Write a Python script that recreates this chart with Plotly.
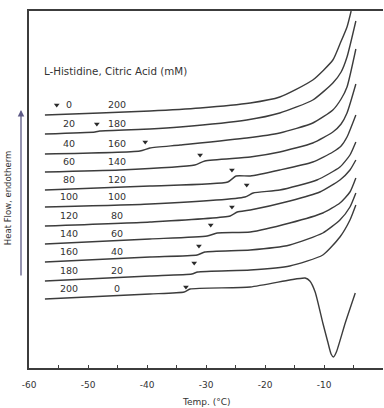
import plotly.graph_objects as go

# Sample composition (mM)
his_mM = [0, 20, 40, 60, 80, 100, 120, 140, 160, 180, 200]
cit_mM = [200, 180, 160, 140, 120, 100, 80, 60, 40, 20, 0]

# Thermograms: temperature (°C) and heat flow (arbitrary units, stacked)
t_0 = [-57.3, -48.0, -39.5, -31.0, -22.5, -17.5, -11.9, -8.5, -7.3, -6.1, -5.4]
hf_0 = [25.3, 25.5, 25.7, 26.0, 26.5, 27.1, 28.8, 30.8, 32.4, 34.1, 35.7]

t_20 = [-57.3, -48.8, -48.0, -39.5, -34.4, -23.1, -17.5, -11.9, -8.5, -7.1, -6.1, -4.6]
hf_20 = [23.4, 23.6, 23.7, 23.9, 24.1, 24.8, 25.5, 26.8, 28.5, 29.6, 31.1, 34.7]

t_40 = [-57.3, -41.2, -39.5, -34.4, -23.1, -17.5, -11.9, -8.5, -7.1, -6.1, -4.6]
hf_40 = [21.4, 21.7, 22.0, 22.3, 23.0, 23.5, 24.5, 25.8, 26.9, 28.1, 31.9]

t_60 = [-57.3, -44.6, -31.9, -30.2, -22.5, -17.5, -11.9, -8.5, -7.1, -6.1, -4.6]
hf_60 = [19.6, 19.8, 20.3, 20.7, 21.1, 21.6, 22.5, 23.6, 24.4, 25.5, 28.4]

t_80 = [-57.3, -39.5, -26.3, -24.9, -22.5, -17.5, -11.9, -8.5, -7.1, -6.1, -4.6]
hf_80 = [17.8, 18.2, 18.6, 19.2, 19.2, 19.8, 20.6, 21.6, 22.2, 23.1, 25.3]

t_100 = [-57.3, -39.5, -23.4, -22.0, -17.5, -11.2, -7.3, -5.6, -4.6]
hf_100 = [16.1, 16.4, 17.1, 17.5, 17.8, 18.8, 20.1, 21.3, 22.6]

t_120 = [-57.3, -39.5, -25.9, -24.7, -22.5, -15.8, -10.7, -7.3, -5.6, -4.6]
hf_120 = [14.2, 14.6, 15.2, 15.6, 15.8, 16.7, 17.6, 18.8, 19.8, 20.8]

t_140 = [-57.3, -39.5, -29.8, -28.1, -22.5, -15.8, -10.2, -7.3, -5.6, -4.6]
hf_140 = [12.4, 12.9, 13.2, 13.5, 13.6, 14.5, 15.5, 16.5, 17.6, 19.0]

t_160 = [-57.3, -39.5, -31.5, -30.2, -22.5, -15.8, -10.2, -7.3, -5.6, -4.6]
hf_160 = [10.6, 11.1, 11.3, 11.6, 11.8, 12.3, 13.5, 14.8, 16.1, 17.5]

t_180 = [-57.3, -39.5, -32.4, -31.4, -22.5, -15.8, -10.2, -7.3, -5.6, -4.6]
hf_180 = [8.7, 9.2, 9.4, 9.6, 9.8, 10.2, 11.3, 13.1, 14.8, 16.3]

t_200 = [-57.3, -39.5, -33.7, -32.7, -22.5, -15.8, -13.2, -12.4, -11.5, -10.2,
         -9.4, -8.8, -8.4, -7.9, -6.4, -4.7]
hf_200 = [6.9, 7.4, 7.6, 7.9, 8.1, 8.8, 9.0, 8.7, 7.6, 4.5,
          2.7, 1.4, 1.1, 1.6, 4.5, 7.5]

# Glass transition markers (°C, heat flow)
tg_temp = [-55.3, -48.5, -40.3, -31.0, -25.6, -23.1, -25.6, -29.2, -31.2, -32.0, -33.4]
tg_hf = [26.3, 24.4, 22.6, 21.3, 19.8, 18.3, 16.1, 14.3, 12.2, 10.5, 8.1]

# Axis ticks
x_tick_vals = [-60, -50, -40, -30, -20, -10, 0]
x_tick_text = ["-60", "-50", "-40", "-30", "-20", "-10", "0"]

curves = [(t_0, hf_0), (t_20, hf_20), (t_40, hf_40), (t_60, hf_60), (t_80, hf_80),
          (t_100, hf_100), (t_120, hf_120), (t_140, hf_140), (t_160, hf_160),
          (t_180, hf_180), (t_200, hf_200)]

LINE = "#3c3c3c"
TXT = "#333333"
FONT = "DejaVu Sans, Verdana, sans-serif"

fig = go.Figure()
for t, hf in curves:
    fig.add_trace(go.Scatter(x=t, y=hf, mode="lines",
                             line=dict(color=LINE, width=1.4, shape="spline", smoothing=0.55),
                             showlegend=False, hoverinfo="skip"))

fig.add_trace(go.Scatter(x=tg_temp, y=tg_hf, mode="markers",
                         marker=dict(symbol="triangle-down", size=5, color="#2a2a2a"),
                         showlegend=False, hoverinfo="skip"))

annotations = []
for (t, hf), h, c in zip(curves, his_mM, cit_mM):
    annotations.append(dict(x=-53.2, y=hf[0] + 1.1, xref="x", yref="y", text=str(h),
                            showarrow=False, font=dict(size=9.5, color=TXT, family=FONT)))
    annotations.append(dict(x=-45.1, y=hf[0] + 1.1, xref="x", yref="y", text=str(c),
                            showarrow=False, font=dict(size=9.5, color=TXT, family=FONT)))

annotations.append(dict(x=0.037, y=0.832, xref="paper", yref="paper",
                        text="L-Histidine, Citric Acid (mM)", showarrow=False,
                        xanchor="left", yanchor="middle",
                        font=dict(size=10.3, color=TXT, family=FONT)))
# y-axis label + arrow
annotations.append(dict(x=-0.0226, y=0.723, xref="paper", yref="paper", text="",
                        showarrow=True, ax=0, ay=167, axref="pixel", ayref="pixel",
                        arrowhead=2, arrowsize=1, arrowwidth=1.3, arrowcolor="#5d5a86"))
annotations.append(dict(x=-0.059, y=0.476, xref="paper", yref="paper",
                        text="Heat Flow, endotherm", textangle=-90, showarrow=False,
                        xanchor="center", yanchor="middle",
                        font=dict(size=8.5, color=TXT, family=FONT)))
# x-axis title
annotations.append(dict(x=0.5, y=-0.095, xref="paper", yref="paper",
                        text="Temp. (°C)", showarrow=False, yanchor="middle",
                        font=dict(size=9, color=TXT, family=FONT)))

fig.update_layout(
    width=384, height=408,
    margin=dict(l=29, r=1, t=11, b=40),
    paper_bgcolor="white", plot_bgcolor="white",
    annotations=annotations,
    xaxis=dict(range=[-60, 0], tickvals=x_tick_vals, ticktext=x_tick_text,
               ticks="inside", ticklen=3, tickcolor=LINE, showgrid=False, zeroline=False,
               showline=True, mirror=True, linecolor=LINE, linewidth=1.5,
               tickfont=dict(size=9, color=TXT, family=FONT), ticklabelstandoff=7,
               minor=dict(dtick=5, tick0=-60, ticks="inside", ticklen=3, tickcolor=LINE)),
    yaxis=dict(range=[0, 35.7], showticklabels=False, ticks="", showgrid=False,
               zeroline=False, showline=True, mirror=False, linecolor=LINE, linewidth=1.5),
)

fig.write_html("out.html", config={"displayModeBar": False},
               post_script="document.body.style.margin='0';document.body.style.overflow='hidden';")
